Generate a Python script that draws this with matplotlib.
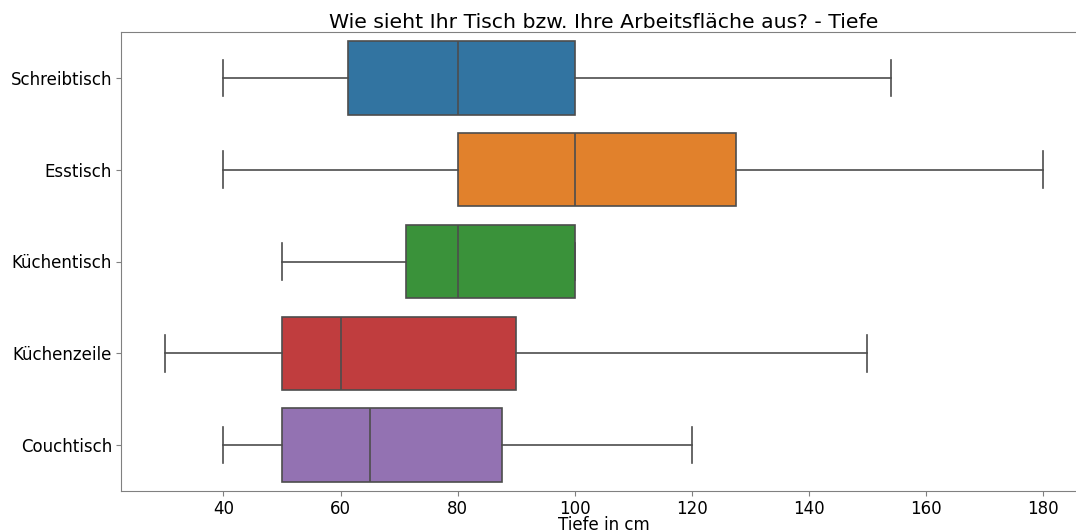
import matplotlib
matplotlib.use("Agg")
import matplotlib.pyplot as plt

categories = ["Schreibtisch", "Esstisch", "Küchentisch", "Küchenzeile", "Couchtisch"]
whisker_low = [40, 40, 50, 30, 40]
q1 = [61.25, 80, 71.25, 50, 50]
median = [80, 100, 80, 60, 65]
q3 = [100, 127.5, 100, 90, 87.5]
whisker_high = [154, 180, 100, 150, 120]
colors = ["#3274a1", "#e1812c", "#3a923a", "#c03d3e", "#9372b2"]

title = "Wie sieht Ihr Tisch bzw. Ihre Arbeitsfläche aus? - Tiefe"
xlabel = "Tiefe in cm"
xticks = [40, 60, 80, 100, 120, 140, 160, 180]

W, H = 1076, 531
fig = plt.figure(figsize=(W / 100, H / 100), dpi=100)
left, right = 121 / W, 1087 / W
bottom, top = 1 - 491 / H, 1 - 32 / H
ax = fig.add_axes([left, bottom, right - left, top - bottom])

stats = []
for i, name in enumerate(categories):
    stats.append(dict(label=name, whislo=whisker_low[i], q1=q1[i], med=median[i],
                      q3=q3[i], whishi=whisker_high[i], fliers=[]))

line_color = "#4d4d4d"
bp = ax.bxp(stats, positions=range(len(categories)), vert=False, widths=0.8,
            patch_artist=True, showfliers=False,
            boxprops=dict(edgecolor=line_color, linewidth=1.2),
            medianprops=dict(color=line_color, linewidth=1.2),
            whiskerprops=dict(color=line_color, linewidth=1.2),
            capprops=dict(color=line_color, linewidth=1.2),
            capwidths=0.4)
for patch, c in zip(bp["boxes"], colors):
    patch.set_facecolor(c)

ax.set_ylim(len(categories) - 0.5, -0.5)
ax.set_xlim(22.5, 187.5)
ax.set_yticks(range(len(categories)))
ax.set_yticklabels(categories, fontsize=12)
ax.set_xticks(xticks)
ax.set_xticklabels([str(t) for t in xticks], fontsize=12)
ax.set_xlabel(xlabel, fontsize=12, labelpad=-1.5)
ax.set_title(title, fontsize=14.7, pad=3)
for s in ax.spines.values():
    s.set_color("#808080")
ax.tick_params(colors="#808080", labelcolor="black", length=3.5, pad=3)

fig.savefig("out.png", dpi=100)
